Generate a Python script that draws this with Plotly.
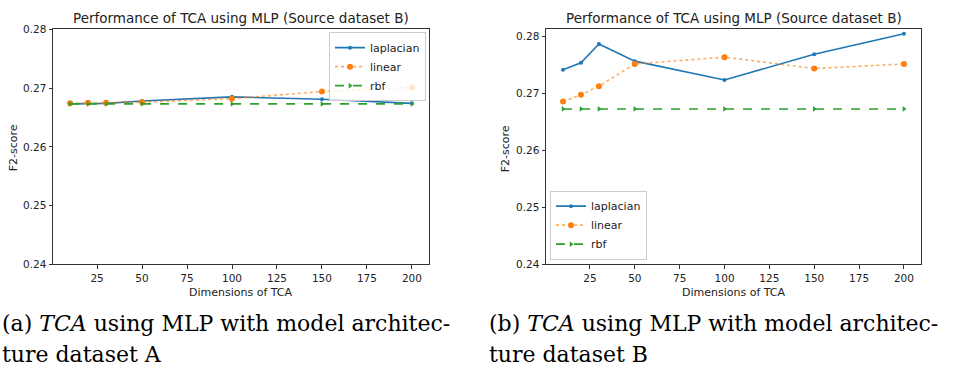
import plotly.graph_objects as go

# ---------------- data ----------------
dims = [10, 20, 30, 50, 100, 150, 200]

a_laplacian = [0.2673, 0.2674, 0.2674, 0.2678, 0.2685, 0.2681, 0.2674]
a_linear = [0.2674, 0.2675, 0.2675, 0.2676, 0.2682, 0.2694, 0.2701]
a_rbf = [0.2673, 0.2673, 0.2673, 0.2673, 0.2673, 0.2673, 0.2673]

b_laplacian = [0.2742, 0.2754, 0.2787, 0.2757, 0.2724, 0.2769, 0.2805]
b_linear = [0.2686, 0.2698, 0.2713, 0.2752, 0.2764, 0.2744, 0.2752]
b_rbf = [0.2673, 0.2673, 0.2673, 0.2673, 0.2673, 0.2673, 0.2673]

x_ticks = [25, 50, 75, 100, 125, 150, 175, 200]
y_ticks = [0.24, 0.25, 0.26, 0.27, 0.28]

title_text = "Performance of TCA using MLP (Source dataset B)"
x_title = "Dimensions of TCA"
y_title = "F2-score"
captions = [
    ("(a) <i>TCA</i> using MLP with model architec-", "ture dataset A"),
    ("(b) <i>TCA</i> using MLP with model architec-", "ture dataset B"),
]

# ---------------- layout constants ----------------
W, H = 969, 376
BLUE, ORANGE, GREEN = "#1f77b4", "#ff7f0e", "#2ca02c"
FONT = "DejaVu Sans"

def px_x(p):
    return p / W

def px_y(p):
    return 1 - p / H

axes_px = [(53, 429), (546, 921)]
top_px, bot_px = 24, 267

fig = go.Figure()

def add_series(xa, ya, leg, lap, lin, rbf):
    fig.add_trace(go.Scatter(x=dims, y=lap, name="laplacian", mode="lines+markers",
                             line=dict(color=BLUE, width=1.6),
                             marker=dict(symbol="circle", size=4, color=BLUE),
                             xaxis=xa, yaxis=ya, legend=leg))
    fig.add_trace(go.Scatter(x=dims, y=lin, name="linear", mode="lines+markers",
                             line=dict(color="rgba(255,127,14,0.65)", width=1.6, dash="dot"),
                             marker=dict(symbol="circle", size=6, color=ORANGE),
                             xaxis=xa, yaxis=ya, legend=leg))
    fig.add_trace(go.Scatter(x=dims, y=rbf, name="rbf", mode="lines+markers",
                             line=dict(color=GREEN, width=1.6, dash="dash"),
                             marker=dict(symbol="triangle-right", size=5, color=GREEN),
                             xaxis=xa, yaxis=ya, legend=leg))

add_series("x", "y", "legend", a_laplacian, a_linear, a_rbf)
add_series("x2", "y2", "legend2", b_laplacian, b_linear, b_rbf)

axis_common = dict(showline=True, linecolor="#333333", linewidth=1, mirror=True,
                   ticks="outside", ticklen=3.5, tickcolor="#333333", showgrid=False,
                   zeroline=False, tickfont=dict(family=FONT, size=10.5, color="#222222"))

y_ranges = [[0.24, 0.28], [0.24, 0.2813]]

layout_axes = {}
for i, (l, r) in enumerate(axes_px):
    sx = "" if i == 0 else str(i + 1)
    layout_axes["xaxis" + sx] = dict(domain=[px_x(l), px_x(r)], range=[0.5, 209.5],
                                     tickvals=x_ticks, anchor="y" + sx, **axis_common)
    layout_axes["yaxis" + sx] = dict(domain=[px_y(bot_px), px_y(top_px)], range=y_ranges[i],
                                     tickvals=y_ticks, tickformat=".2f", anchor="x" + sx,
                                     **axis_common)

annotations = []
ylab_x = [13, 505]
for i, (l, r) in enumerate(axes_px):
    cx = (l + r) / 2
    annotations.append(dict(text=title_text, x=px_x(cx), y=px_y(12), xref="paper", yref="paper",
                            showarrow=False, xanchor="center", yanchor="middle",
                            font=dict(family=FONT, size=13.5, color="#222222")))
    annotations.append(dict(text=x_title, x=px_x(cx), y=px_y(296), xref="paper", yref="paper",
                            showarrow=False, xanchor="center", yanchor="middle",
                            font=dict(family=FONT, size=11, color="#222222")))
    annotations.append(dict(text=y_title, x=px_x(ylab_x[i]), y=px_y(147), xref="paper", yref="paper",
                            showarrow=False, xanchor="center", yanchor="middle", textangle=-90,
                            font=dict(family=FONT, size=11, color="#222222")))

cap_x = [0, 487]
for i, (l1, l2) in enumerate(captions):
    annotations.append(dict(text=l1, x=px_x(cap_x[i]), y=px_y(328), xref="paper", yref="paper",
                            showarrow=False, xanchor="left", yanchor="middle",
                            font=dict(family="DejaVu Serif", size=22, color="#000000")))
    annotations.append(dict(text=l2, x=px_x(cap_x[i]), y=px_y(360), xref="paper", yref="paper",
                            showarrow=False, xanchor="left", yanchor="middle",
                            font=dict(family="DejaVu Serif", size=22, color="#000000")))

legend_common = dict(bgcolor="rgba(255,255,255,0.8)", bordercolor="#cccccc", borderwidth=1,
                     font=dict(family=FONT, size=11, color="#222222"), itemwidth=30,
                     tracegroupgap=0)

fig.update_layout(
    width=W, height=H,
    margin=dict(l=0, r=0, t=0, b=0),
    paper_bgcolor="white", plot_bgcolor="white",
    annotations=annotations,
    legend=dict(x=px_x(426), y=px_y(27), xanchor="right", yanchor="top", **legend_common),
    legend2=dict(x=px_x(550), y=px_y(262), xanchor="left", yanchor="bottom", **legend_common),
    **layout_axes,
)

fig.write_html("out.html", config={"displayModeBar": False},
               post_script="document.body.style.margin='0';")
